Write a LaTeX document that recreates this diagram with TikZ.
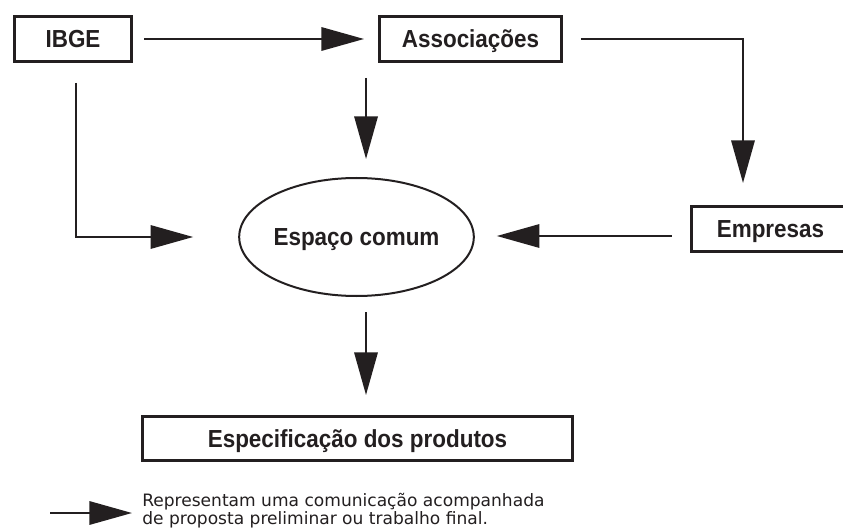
\documentclass[tikz,border=0pt]{standalone}
\usepackage{fontspec}
\setmainfont{Liberation Sans}
\newfontfamily\labf[FakeStretch=0.91]{Liberation Sans}
\newfontfamily\legf{DejaVu Sans}
\usetikzlibrary{arrows.meta,shapes.geometric,calc}
\definecolor{ink}{RGB}{35,31,32}
\begin{document}
\begin{tikzpicture}[x=0.75pt,y=-0.75pt,
  box/.style={draw=ink,line width=2pt,inner sep=0pt,minimum height=34pt,text=ink,
    font=\labf\bfseries\fontsize{18.5}{20}\selectfont,text height=13.2pt,text depth=0pt},
  conn/.style={draw=ink,line width=1.7pt,-{Triangle[length=32pt,width=17.5pt]}},
  legtext/.style={anchor=north west,inner sep=0pt,align=left,text=ink,
    font=\legf\fontsize{12.8}{13.2}\selectfont}]
\clip (0,0) rectangle (843,531);
\fill[white] (0,0) rectangle (843,531);
\node[box,minimum width=88pt] (ibge) at (73,39) {IBGE};
\node[box,minimum width=136.7pt] (assoc) at (470.5,39) {Associações};
\node[box,minimum width=118.8pt] (emp) at (770.5,229) {Empresas};
\node[box,ellipse,line width=1.5pt,minimum width=165.75pt,minimum height=88.5pt] (esp) at (356.5,237) {Espaço comum};
\node[box,minimum width=322.7pt,minimum height=33.2pt] (spec) at (357.5,438.5) {Especificação dos produtos};
% connectors
\draw[conn] ($(ibge.east)+(11,0)$) -- ($(assoc.west)+(-14,0)$);
\coordinate (s2) at ($(assoc.south west)+(-12,15)$);
\draw[conn] (s2) -- ($(s2 |- esp.north)+(0,-18)$);
\coordinate (s3) at ($(ibge.south)+(3,20)$);
\draw[conn] (s3) |- ($(esp.west)+(-45,0)$);
\draw[conn] ($(assoc.east)+(18,0)$) -| ($(emp.north)+(-27.5,-22)$);
\draw[conn] ($(emp.west)+(-18,7)$) -- ($(esp.east)+(22,-1)$);
\draw[conn] ($(esp.south)+(9.5,15)$) -- ($(spec.north)+(8.5,-20)$);
% legend
\coordinate (l1) at (50,513);
\coordinate (l2) at (132,513);
\draw[conn] (l1) -- (l2);
\node[legtext] (leg) at (142,493) {Representam uma comunicação acompanhada\\de proposta preliminar ou trabalho final.};
\end{tikzpicture}
\end{document}
